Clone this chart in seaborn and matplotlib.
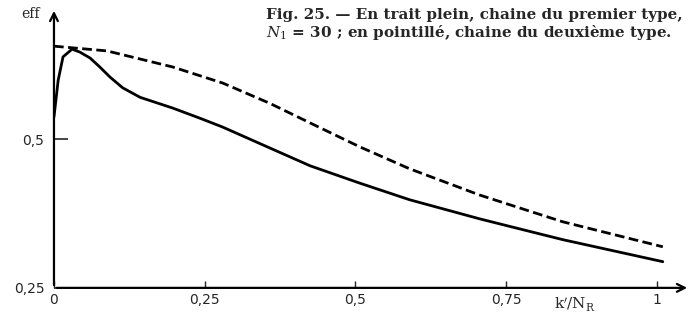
import matplotlib
matplotlib.use("Agg")
import matplotlib.pyplot as plt
import seaborn as sns
import pandas as pd

# valeurs (k'/N_R, efficacité)
k_plein = [0, 0.007, 0.015, 0.03, 0.043, 0.06, 0.076, 0.093, 0.114, 0.143, 0.197,
           0.242, 0.28, 0.358, 0.425, 0.507, 0.59, 0.706, 0.761, 0.844, 1.01]
eff_plein = [0.537, 0.599, 0.638, 0.651, 0.646, 0.636, 0.621, 0.604, 0.586, 0.570, 0.552,
             0.535, 0.520, 0.485, 0.455, 0.426, 0.398, 0.366, 0.352, 0.331, 0.294]

k_pointille = [0, 0.088, 0.197, 0.28, 0.358, 0.425, 0.507, 0.59, 0.706, 0.761, 0.844, 1.01]
eff_pointille = [0.656, 0.648, 0.621, 0.594, 0.560, 0.527, 0.487, 0.450, 0.406, 0.388, 0.361, 0.319]

x_ticks = [0, 0.25, 0.5, 0.75, 1]
x_labels = ["0", "0,25", "0,5", "0,75", "1"]
y_ticks = [0.25, 0.5]
y_labels = ["0,25", "0,5"]

sns.set_style("white")
plt.rcParams['font.family'] = ['DejaVu Sans']
plt.rcParams['mathtext.fontset'] = 'dejavuserif'

df_plein = pd.DataFrame({"k": k_plein, "eff": eff_plein})
df_point = pd.DataFrame({"k": k_pointille, "eff": eff_pointille})

fig = plt.figure(figsize=(6.92, 3.22), dpi=100)
ax = fig.add_axes([0.078, 0.106, 0.919, 0.869])

sns.lineplot(data=df_plein, x="k", y="eff", ax=ax, color="black", lw=2.0)
sns.lineplot(data=df_point, x="k", y="eff", ax=ax, color="black", lw=2.0,
             linestyle=(0, (3.5, 1.6)))

ax.set_xlim(0, 1.055)
ax.set_ylim(0.25, 0.72)
ax.set_xlabel("")
ax.set_ylabel("")

for s in ax.spines.values():
    s.set_visible(False)

# axes avec flèches
ax.annotate("", xy=(0, 1), xytext=(0, 0), xycoords="axes fraction",
            arrowprops=dict(arrowstyle="->", lw=1.6, color="black", mutation_scale=14))
ax.annotate("", xy=(1, 0), xytext=(0, 0), xycoords="axes fraction",
            arrowprops=dict(arrowstyle="->", lw=1.6, color="black", mutation_scale=14))

ax.set_xticks(x_ticks)
ax.set_xticklabels(x_labels)
ax.set_yticks(y_ticks)
ax.set_yticklabels(y_labels)
ax.tick_params(axis="x", direction="in", length=5, width=1, pad=4, labelsize=10)
ax.tick_params(axis="y", direction="in", length=10, width=1.2, pad=7, labelsize=10)
ax.tick_params(axis="both", bottom=True, left=True)

fig.text(0.03, 0.955, "eff", fontsize=10, family="DejaVu Serif", va="center")
fig.text(0.80, 1 - 305 / 322, r"k$'$/N$_\mathrm{R}$", fontsize=11,
         family="DejaVu Serif", va="center")

fig.text(0.384, 0.975,
         "Fig. 25. — En trait plein, chaine du premier type,\n"
         r"$N_1$ = 30 ; en pointillé, chaine du deuxième type.",
         fontsize=10.9, family="DejaVu Serif", weight="bold",
         va="top", ha="left", linespacing=1.1)

fig.savefig("out.png", dpi=100)
